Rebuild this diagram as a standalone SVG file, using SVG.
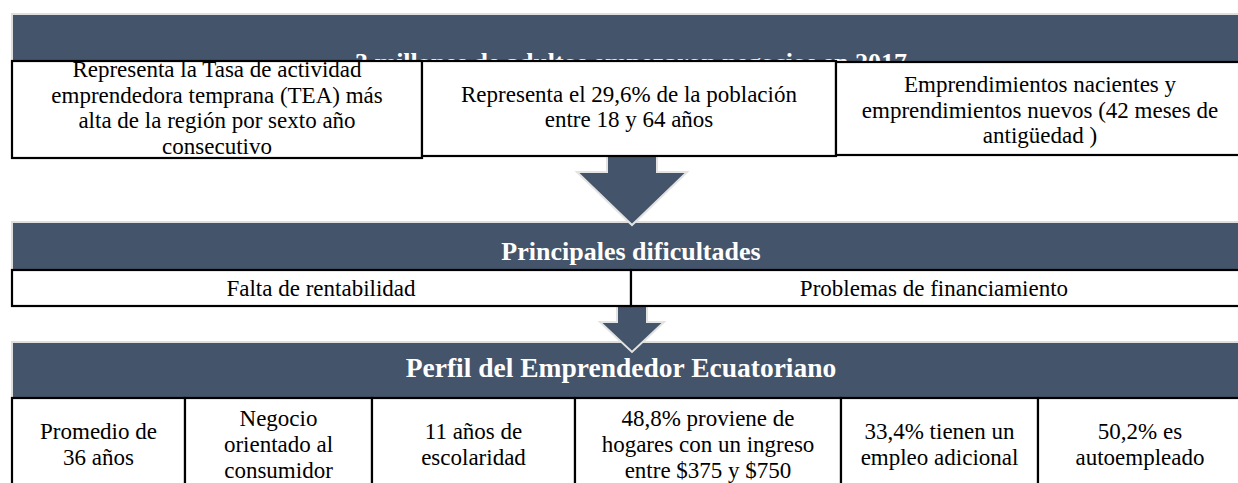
<svg xmlns="http://www.w3.org/2000/svg" width="1238" height="483" viewBox="0 0 1238 483">
<style>
.band{fill:#44546A;stroke:#dedede;stroke-width:2}
.arrow{fill:#44546A;stroke:#e3e3e3;stroke-width:2;stroke-linejoin:miter}
.box{fill:#ffffff;stroke:#000000;stroke-width:2.2}
.hd{font-family:"Liberation Serif","Times New Roman",serif;font-weight:bold;font-size:26px;fill:#ffffff;text-anchor:middle}
.tx{font-family:"Liberation Serif","Times New Roman",serif;font-size:23px;fill:#000000;text-anchor:middle}
</style>
<rect width="1238" height="483" fill="#ffffff"/>
<g id="band-dificultades">
<rect class="band" x="12" y="222" width="1240" height="48"/>
<text class="hd" x="631" y="260">Principales dificultades</text>
</g>
<g id="band-perfil">
<rect class="band" x="12" y="342" width="1240" height="60"/>
<text class="hd" x="621" y="377" style="font-size:27.5px">Perfil del Emprendedor Ecuatoriano</text>
</g>
<g id="connectors">
<polygon class="arrow" points="607,140 657,140 657,172 687,172 632,225 577,172 607,172"/>
<polygon class="arrow" points="617,300 647,300 647,322 664,322 632,352 600,322 617,322"/>
</g>
<g id="band-titulo">
<rect class="band" x="12" y="14" width="1240" height="76"/>
<text class="hd" x="631" y="71">3 millones de adultos empezaron negocios en 2017</text>
</g>
<g id="box-tea">
<rect class="box" x="12" y="61" width="410" height="97"/>
<text class="tx" x="217" y="77">Representa la Tasa de actividad</text>
<text class="tx" x="217" y="102.5">emprendedora temprana (TEA) más</text>
<text class="tx" x="217" y="128">alta de la región por sexto año</text>
<text class="tx" x="217" y="153.5">consecutivo</text>
</g>
<g id="box-poblacion">
<rect class="box" x="422" y="61" width="414" height="95"/>
<text class="tx" x="629" y="102">Representa el 29,6% de la población</text>
<text class="tx" x="629" y="127">entre 18 y 64 años</text>
</g>
<g id="box-emprendimientos">
<rect class="box" x="836" y="62" width="410" height="93"/>
<text class="tx" x="1040" y="92">Emprendimientos nacientes y</text>
<text class="tx" x="1040" y="117.5">emprendimientos nuevos (42 meses de</text>
<text class="tx" x="1040" y="143">antigüedad )</text>
</g>
<g id="box-rentabilidad">
<rect class="box" x="12" y="270" width="619" height="36"/>
<text class="tx" x="321" y="296">Falta de rentabilidad</text>
</g>
<g id="box-financiamiento">
<rect class="box" x="631" y="270" width="615" height="36"/>
<text class="tx" x="934" y="296">Problemas de financiamiento</text>
</g>
<g id="box-edad">
<rect class="box" x="12" y="398" width="173" height="95"/>
<text class="tx" x="98.5" y="439">Promedio de</text>
<text class="tx" x="98.5" y="465">36 años</text>
</g>
<g id="box-negocio">
<rect class="box" x="185" y="398" width="187" height="95"/>
<text class="tx" x="278.5" y="426">Negocio</text>
<text class="tx" x="278.5" y="452">orientado al</text>
<text class="tx" x="278.5" y="478">consumidor</text>
</g>
<g id="box-escolaridad">
<rect class="box" x="372" y="398" width="203" height="95"/>
<text class="tx" x="473.5" y="439">11 años de</text>
<text class="tx" x="473.5" y="465">escolaridad</text>
</g>
<g id="box-ingreso">
<rect class="box" x="575" y="398" width="266" height="95"/>
<text class="tx" x="708" y="426">48,8% proviene de</text>
<text class="tx" x="708" y="452">hogares con un ingreso</text>
<text class="tx" x="708" y="478">entre $375 y $750</text>
</g>
<g id="box-empleo">
<rect class="box" x="841" y="398" width="197" height="95"/>
<text class="tx" x="939.5" y="439">33,4% tienen un</text>
<text class="tx" x="939.5" y="465">empleo adicional</text>
</g>
<g id="box-autoempleo">
<rect class="box" x="1038" y="398" width="210" height="95"/>
<text class="tx" x="1140" y="439">50,2% es</text>
<text class="tx" x="1140" y="465">autoempleado</text>
</g>
</svg>
